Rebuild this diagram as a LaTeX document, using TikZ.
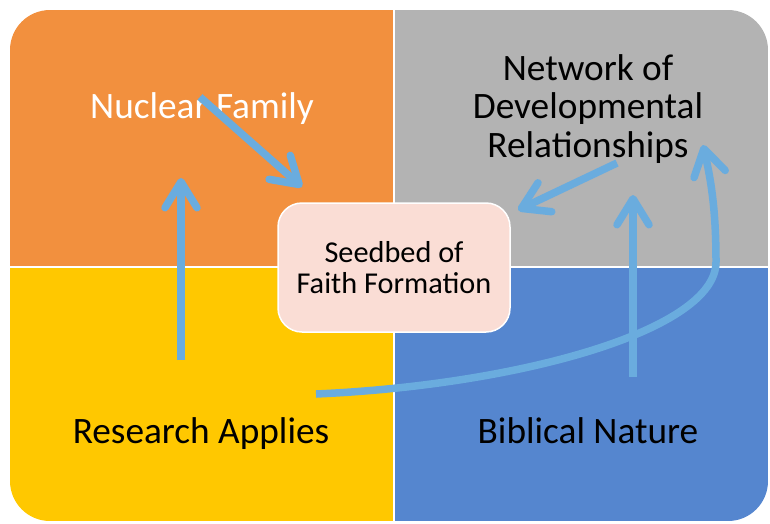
\documentclass[tikz,border=0pt]{standalone}
\usepackage{fontspec}
\setmainfont{Carlito}
\usetikzlibrary{arrows.meta}
\definecolor{qorange}{HTML}{F2903E}
\definecolor{qgray}{HTML}{B3B3B3}
\definecolor{qyellow}{HTML}{FFC800}
\definecolor{qblue}{HTML}{5586CF}
\definecolor{arrowc}{HTML}{6AACDE}
\definecolor{seedfill}{HTML}{FADDD5}
\tikzset{
  bigtxt/.style={font=\fontsize{37.3}{39}\selectfont, align=center, inner sep=0pt, anchor=base},
  seedbox/.style={draw=white, line width=1.5pt, fill=seedfill, rounded corners=24pt,
    minimum width=232pt, minimum height=129pt, align=center,
    font=\fontsize{30.3}{31}\selectfont, text=black},
  flow/.style={draw=arrowc, line width=7.5pt,
    -{Straight Barb[length=26pt, width=32pt, round]}}
}
\begin{document}
\begin{tikzpicture}[x=1pt,y=-1pt]
\useasboundingbox (0,0) rectangle (770,523);
\begin{scope}
  \clip[rounded corners=40pt] (10,10) rectangle (768,521);
  \fill[qorange] (10,10) rectangle (394,267);
  \fill[qgray] (394,10) rectangle (768,267);
  \fill[qyellow] (10,267) rectangle (394,521);
  \fill[qblue] (394,267) rectangle (768,521);
  \draw[white, line width=1.8pt] (394,10) -- (394,521);
  \draw[white, line width=1.8pt] (10,267) -- (768,267);
\end{scope}
% labels
\node[bigtxt, text=white] (nuc) at (202,118) {Nuclear Family};
\node[bigtxt, text=black] (net1) at (588,80) {Network of};
\node[bigtxt, text=black] (net2) at (588,118) {Developmental};
\node[bigtxt, text=black] (net3) at (588,157) {Relationships};
\node[bigtxt, text=black] (res) at (201,443) {Research Applies};
\node[bigtxt, text=black] (bib) at (588,443) {Biblical Nature};
% arrow end points
\coordinate (a1s) at (200,97);   \coordinate (a1e) at (302,187);
\coordinate (a2s) at (181,360);  \coordinate (a2e) at (181,178);
\coordinate (a3s) at (617,163);  \coordinate (a3e) at (518,210);
\coordinate (a4s) at (633,377);  \coordinate (a4e) at (633,195);
\coordinate (a5s) at (316,394);  \coordinate (a5m) at (716,262);
\coordinate (a5e) at (703,145);
% arrows
\draw[flow] (a1s) -- (a1e);
\draw[flow] (a2s) -- (a2e);
\draw[flow] (a3s) -- (a3e);
\draw[flow] (a4s) -- (a4e);
\draw[flow] (a5s) .. controls (520,385) and (716,330) .. (a5m)
  .. controls (716,210) and (711,180) .. (a5e);
% centre box
\node[seedbox] (seed) at (394,267.5) {Seedbed of\\Faith Formation};
\end{tikzpicture}
\end{document}
